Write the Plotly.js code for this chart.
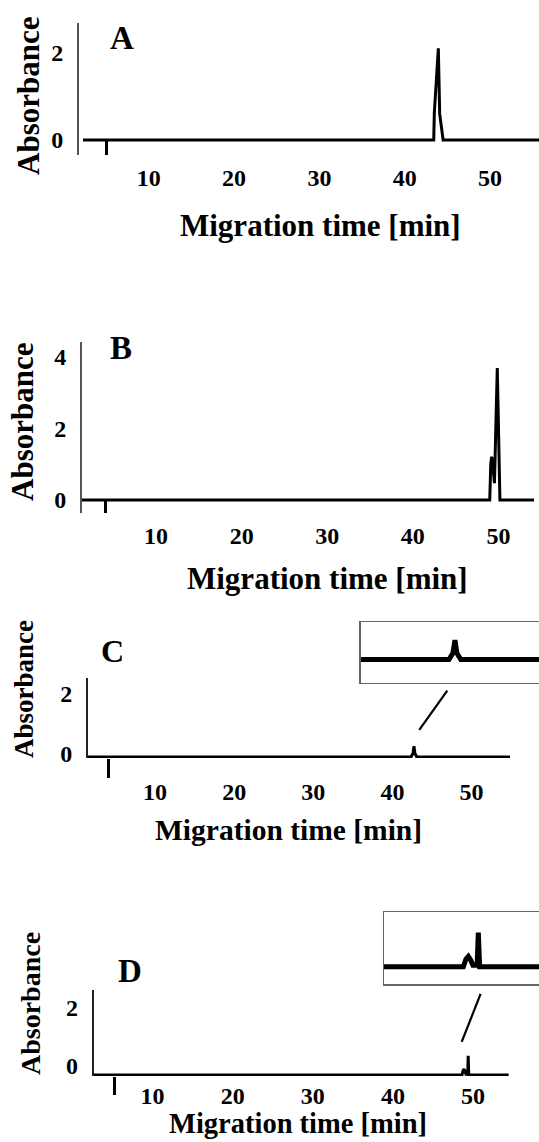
<!DOCTYPE html>
<html>
<head>
<meta charset="utf-8">
<script src="https://cdn.plot.ly/plotly-3.0.1.min.js"></script>
<style>html,body{margin:0;padding:0;background:#fff;}#chart{width:539px;height:1142px;}</style>
</head>
<body>
<div id="chart"></div>
<script>
// ---------- data ----------
const timeA = [2.29, 43.40, 43.47, 43.60, 43.94, 44.10, 44.25, 44.50, 55.74];
const absA  = [0,    0,     0.62,  1.00,  2.11,  0.60,  0.35,  0,     0];

const timeB = [1.35, 48.98, 49.10, 49.20, 49.32, 49.53, 49.86, 50.17, 54.15];
const absB  = [0,    0,     1.00,  1.21,  1.05,  0.47,  3.69,  0,     0];

const timeC = [1.52, 42.35, 42.60, 42.73, 42.85, 43.10, 54.87];
const absC  = [0,    0,     0.12,  0.36,  0.12,  0,     0];

const timeD = [2.66, 48.62, 48.76, 48.88, 49.00, 49.12, 49.34, 49.40, 49.47, 54.47];
const absD  = [0,    0,     0.15,  0.20,  0.13,  0.03,  0.03,  0.66,  0,     0];

const xTickVals = [10, 20, 30, 40, 50];
const xTickText = ['10', '20', '30', '40', '50'];
const yTicksA = [0, 2];
const yTicksB = [0, 2, 4];
const yTicksC = [0, 2];
const yTicksD = [0, 2];
const startTick = [5.1, 4.15, 4.17, 5.24];   // single marker tick near start of each run
const panelLetters = ['A', 'B', 'C', 'D'];
const xTitleText = 'Migration time [min]';
const yTitleText = 'Absorbance';

// ---------- layout helpers ----------
const W = 539, H = 1142;
const px = v => v / W;
const py = v => 1 - v / H;
const FONT = 'Liberation Serif, Times New Roman, serif';
const f = (size) => ({family: FONT, size: size, color: 'black', weight: 700});
const TICK_SIZE = 24;

function mainX(l, r, range, anchor, tick, tickDir, tickLen, standoff) {
  return {
    domain: [px(l), px(r)], range: range, anchor: anchor,
    showline: false, zeroline: false, showgrid: false,
    tickmode: 'array', tickvals: xTickVals, ticktext: xTickText,
    ticks: '', tickfont: f(TICK_SIZE), ticklabelstandoff: standoff,
    minor: {tickmode: 'array', tickvals: [tick], ticks: tickDir, ticklen: tickLen,
            tickwidth: 3, tickcolor: 'black', showgrid: false},
    fixedrange: true
  };
}
function mainY(t, b, range, anchor, vals, lineColor, shift) {
  return {
    domain: [py(b), py(t)], range: range, anchor: anchor,
    showline: true, linecolor: lineColor, linewidth: 2,
    zeroline: false, showgrid: false,
    tickmode: 'array', tickvals: vals, ticks: '',
    tickfont: f(TICK_SIZE), ticklabelstandoff: 9, ticklabelshift: shift,
    fixedrange: true
  };
}
function insetX(l, range, anchor) {
  return {domain: [px(l), 1], range: range, anchor: anchor,
    showline: true, mirror: true, linecolor: '#666', linewidth: 1.5,
    showticklabels: false, ticks: '', showgrid: false, zeroline: false, fixedrange: true};
}
function insetY(t, b, range, anchor) {
  return {domain: [py(b), py(t)], range: range, anchor: anchor,
    showline: true, mirror: false, linecolor: '#666', linewidth: 1.5,
    showticklabels: false, ticks: '', showgrid: false, zeroline: false, fixedrange: true};
}

const line = w => ({color: 'black', width: w});
const traces = [
  {x: timeA, y: absA, xaxis: 'x',  yaxis: 'y',  mode: 'lines', line: line(3), hoverinfo: 'skip'},
  {x: timeB, y: absB, xaxis: 'x2', yaxis: 'y2', mode: 'lines', line: line(3), hoverinfo: 'skip'},
  {x: timeC, y: absC, xaxis: 'x3', yaxis: 'y3', mode: 'lines', line: line(3), hoverinfo: 'skip'},
  {x: timeD, y: absD, xaxis: 'x4', yaxis: 'y4', mode: 'lines', line: line(3), hoverinfo: 'skip'},
  {x: timeC, y: absC, xaxis: 'x5', yaxis: 'y5', mode: 'lines', line: line(5), hoverinfo: 'skip'},
  {x: timeD, y: absD, xaxis: 'x6', yaxis: 'y6', mode: 'lines', line: line(5), hoverinfo: 'skip'}
];

function ann(text, x, y, size, angle) {
  return {text: text, x: px(x), y: py(y), xref: 'paper', yref: 'paper',
    xanchor: 'center', yanchor: 'middle', showarrow: false,
    textangle: angle || 0, font: f(size)};
}

const layout = {
  width: W, height: H,
  margin: {l: 0, r: 0, t: 0, b: 0},
  paper_bgcolor: 'white', plot_bgcolor: 'rgba(0,0,0,0)',
  showlegend: false,
  xaxis:  mainX(79, 539, [1.82, 55.74], 'y',  startTick[0], 'inside', 15, 6),
  yaxis:  mainY(23, 155, [-0.345, 2.69], 'x', yTicksA, '#555', 0),
  xaxis2: mainX(82, 534, [1.35, 54.15], 'y2', startTick[1], 'inside', 13, 6),
  yaxis2: mainY(342, 513, [-0.364, 4.42], 'x2', yTicksB, '#555', 0),
  xaxis3: mainX(88, 510, [1.52, 54.87], 'y3', startTick[2], 'outside', 19, 17),
  yaxis3: mainY(678, 758, [-0.033, 2.63], 'x3', yTicksC, '#222', -3),
  xaxis4: mainX(93.8, 508.8, [2.66, 54.47], 'y4', startTick[3], 'outside', 18, 3),
  yaxis4: mainY(989.6, 1076, [-0.034, 2.94], 'x4', yTicksD, '#222', -9),
  xaxis5: insetX(360.7, [36.76, 48.05], 'y5'),
  yaxis5: insetY(622.3, 682.7, [-0.43, 0.689], 'x5'),
  xaxis6: insetX(384, [44.49, 52.56], 'y6'),
  yaxis6: insetY(912.3, 984.3, [-0.342, 1.056], 'x6'),
  shapes: [
    {type: 'line', xref: 'x3', yref: 'y3', x0: 43.4, y0: 0.9, x1: 46.94, y1: 2.21, line: {color: 'black', width: 2.2}},
    {type: 'line', xref: 'x4', yref: 'y4', x0: 48.59, y0: 1.14, x1: 50.95, y1: 2.79, line: {color: 'black', width: 2.2}}
  ],
  annotations: [
    ann(panelLetters[0], 122, 38, 33),
    ann(panelLetters[1], 121, 348, 33),
    ann(panelLetters[2], 112, 651, 32),
    ann(panelLetters[3], 130, 971, 33),
    ann(xTitleText, 321, 226, 31),
    ann(xTitleText, 327, 578, 31),
    ann(xTitleText, 288, 830, 29.5),
    ann(xTitleText, 298, 1123, 28.5),
    ann(yTitleText, 28, 96, 31, -90),
    ann(yTitleText, 23, 422, 31, -90),
    ann(yTitleText, 24, 689, 27, -90),
    ann(yTitleText, 30, 1004, 28, -90)
  ]
};

Plotly.newPlot('chart', traces, layout, {staticPlot: true, displayModeBar: false});
</script>
</body>
</html>
